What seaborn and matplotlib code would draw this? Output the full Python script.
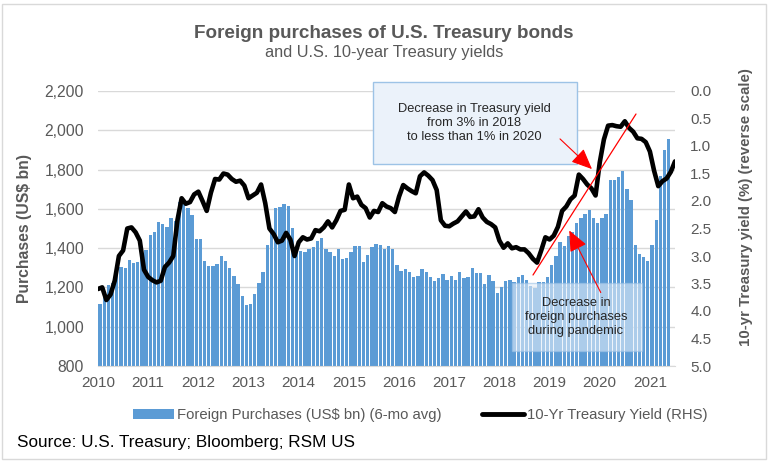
import numpy as np
import seaborn as sns
import matplotlib.pyplot as plt
from matplotlib.patches import Rectangle, Patch, FancyArrowPatch
from matplotlib.lines import Line2D
from matplotlib.ticker import FuncFormatter

# foreign purchases (US$ bn, 6-mo avg), monthly Jan 2010 - May 2021
purchases = [
    1117, 1171, 1214, 1222, 1273, 1304, 1299, 1341, 1324, 1328, 1360, 1392,
    1469, 1481, 1532, 1525, 1506, 1554, 1537, 1635, 1647, 1605, 1571, 1447,
    1447, 1333, 1307, 1307, 1319, 1362, 1333, 1299, 1256, 1219, 1154, 1112,
    1117, 1168, 1222, 1277, 1414, 1494, 1605, 1610, 1627, 1613, 1503, 1392,
    1384, 1379, 1397, 1406, 1435, 1450, 1396, 1379, 1358, 1397, 1345, 1350,
    1379, 1409, 1413, 1328, 1367, 1404, 1421, 1418, 1397, 1409, 1396, 1316,
    1282, 1295, 1277, 1253, 1256, 1294, 1277, 1252, 1235, 1247, 1268, 1238,
    1256, 1239, 1277, 1246, 1253, 1299, 1273, 1273, 1217, 1261, 1235, 1171,
    1200, 1235, 1238, 1230, 1252, 1261, 1239, 1205, 1197, 1227, 1227, 1253,
    1312, 1360, 1431, 1409, 1460, 1482, 1528, 1555, 1575, 1592, 1555, 1528,
    1555, 1572, 1745, 1749, 1762, 1793, 1703, 1647, 1414, 1372, 1355, 1334,
    1414, 1545, 1766, 1898, 1958,
]

# 10-yr treasury yield (%), monthly from Jan 2010
yields = [
    3.60, 3.57, 3.80, 3.70, 3.45, 3.00, 2.90, 2.50, 2.48, 2.57, 2.72, 3.25,
    3.38, 3.44, 3.48, 3.45, 3.20, 3.12, 3.00, 2.35, 1.95, 2.05, 2.02, 1.88,
    1.83, 2.00, 2.18, 1.85, 1.60, 1.61, 1.50, 1.52, 1.60, 1.65, 1.63, 1.72,
    1.95, 1.90, 1.85, 1.70, 2.04, 2.50, 2.60, 2.75, 2.72, 2.58, 2.70, 3.00,
    2.75, 2.66, 2.70, 2.68, 2.53, 2.55, 2.48, 2.37, 2.48, 2.35, 2.18, 2.16,
    1.70, 1.95, 1.92, 2.07, 2.13, 2.30, 2.18, 2.20, 2.04, 2.10, 2.13, 2.20,
    1.92, 1.71, 1.77, 1.82, 1.86, 1.55, 1.48, 1.54, 1.62, 1.80, 2.35, 2.45,
    2.46, 2.41, 2.37, 2.28, 2.19, 2.29, 2.28, 2.15, 2.30, 2.38, 2.42, 2.48,
    2.72, 2.85, 2.77, 2.86, 2.84, 2.88, 2.88, 2.95, 3.05, 3.12, 2.90, 2.66,
    2.70, 2.63, 2.47, 2.18, 2.10, 1.97, 1.90, 1.52, 1.60, 1.70, 1.77, 1.90,
    1.30, 0.88, 0.63, 0.62, 0.64, 0.65, 0.55, 0.67, 0.74, 0.86, 0.87, 0.93,
    1.10, 1.45, 1.73, 1.64, 1.59, 1.47, 1.28,
]

years = list(range(2010, 2022))
left_ticks = list(range(800, 2201, 200))
right_ticks = [0.0, 0.5, 1.0, 1.5, 2.0, 2.5, 3.0, 3.5, 4.0, 4.5, 5.0]

bar_x = 2010 + (np.arange(len(purchases)) + 0.5) / 12
line_x = 2010 + np.arange(len(yields)) / 12

W, H = 768, 463
blue = '#5B9BD5'
gray = '#595959'

sns.set_style('white')
plt.rcParams['font.family'] = ['Liberation Sans', 'DejaVu Sans']

fig = plt.figure(figsize=(W / 100, H / 100), dpi=100)


def fx(px):
    return px / W


def fy(py):
    return 1 - py / H


ax = fig.add_axes([fx(98), fy(366), fx(675) - fx(98), fy(91) - fy(366)])
sns.barplot(x=bar_x, y=purchases, native_scale=True, color=blue, saturation=1,
            width=0.8, linewidth=0, errorbar=None, ax=ax)
ax.set_ylim(800, 2200)
ax.set_yticks(left_ticks)
ax.yaxis.set_major_formatter(FuncFormatter(lambda v, p: f'{int(v):,}'))
ax.yaxis.grid(True, color='#D9D9D9', lw=1)
ax.set_axisbelow(True)
for s in ['top', 'left', 'right']:
    ax.spines[s].set_visible(False)
ax.spines['bottom'].set_color('#D9D9D9')
ax.tick_params(axis='y', length=0, pad=10, labelsize=11.3, labelcolor=gray)
ax.tick_params(axis='x', length=0, pad=7, labelsize=11, labelcolor=gray)
ax.set_ylabel('Purchases (US$ bn)', fontsize=11.3, fontweight='bold', color=gray)
ax.yaxis.set_label_coords(-0.114, 0.5)

ax2 = ax.twinx()
sns.lineplot(x=line_x, y=yields, color='black', linewidth=3.3, ax=ax2)
ax2.set_ylim(5, 0)
ax2.set_yticks(right_ticks)
ax2.yaxis.set_major_formatter(FuncFormatter(lambda v, p: f'{v:.1f}'))
for s in ax2.spines.values():
    s.set_visible(False)
ax2.tick_params(axis='y', length=0, pad=11, labelsize=11, labelcolor=gray)
ax2.set_ylabel('10-yr Treasury yield (%) (reverse scale)', fontsize=10.8,
               fontweight='bold', color=gray, rotation=90)
ax2.yaxis.set_label_coords(1.111, 0.578)

ax.set_xlim(2010, 2021.5)
ax.set_xticks(years)
ax.set_xticklabels([str(y) for y in years])

# titles
fig.text(0.5, fy(33), 'Foreign purchases of U.S. Treasury bonds', ha='center',
         va='center', fontsize=13.6, fontweight='bold', color=gray)
fig.text(0.5, fy(52), 'and U.S. 10-year Treasury yields', ha='center',
         va='center', fontsize=11.8, color=gray)

# annotation boxes
fig.add_artist(Rectangle((fx(373), fy(164)), fx(577) - fx(373), fy(82) - fy(164),
                         transform=fig.transFigure, facecolor='#EBF2FA',
                         edgecolor='#9DC3E6', lw=1))
fig.text(fx(474), fy(123), 'Decrease in Treasury yield\nfrom 3% in 2018\nto less than 1% in 2020',
         ha='center', va='center', fontsize=9.3, color='#262626', linespacing=1.2)

fig.add_artist(Rectangle((fx(512), fy(351)), fx(642) - fx(512), fy(283) - fy(351),
                         transform=fig.transFigure, facecolor='#E3EEF9', alpha=0.6,
                         edgecolor='#9DC3E6', lw=1))
fig.text(fx(576), fy(317), 'Decrease in\nforeign purchases\nduring pandemic',
         ha='center', va='center', fontsize=9.3, color='#262626', linespacing=1.2)

# red trend line and arrows
fig.add_artist(Line2D([fx(533), fx(636)], [fy(275), fy(114)], transform=fig.transFigure,
                      color='red', lw=0.9))
for (x0, y0), (x1, y1) in [((558, 137), (594, 171)), ((602, 295), (568, 228))]:
    fig.add_artist(FancyArrowPatch((fx(x0), fy(y0)), (fx(x1), fy(y1)),
                                   transform=fig.transFigure,
                                   arrowstyle='-|>,head_length=0.8,head_width=0.35',
                                   mutation_scale=16, color='red', lw=0.8))

# legend
handles = [Patch(facecolor=blue, edgecolor='none'), Line2D([], [], color='black', lw=3.5)]
labels = ['Foreign Purchases (US$ bn) (6-mo avg)', '10-Yr Treasury Yield (RHS)']
fig.legend(handles, labels, loc='center', bbox_to_anchor=(fx(420), fy(415)), ncol=2,
           frameon=False, fontsize=10.7, labelcolor=gray, handlelength=2.8,
           handletextpad=0.2, columnspacing=2.7)

fig.text(fx(17), fy(442), 'Source: U.S. Treasury; Bloomberg; RSM US', ha='left',
         va='center', fontsize=12.3, color='black')

# outer border
fig.add_artist(Rectangle((fx(2), fy(459)), fx(766) - fx(2), fy(4) - fy(459),
                         transform=fig.transFigure, facecolor='none',
                         edgecolor='#D9D9D9', lw=1))

fig.savefig('out.png', dpi=100)
